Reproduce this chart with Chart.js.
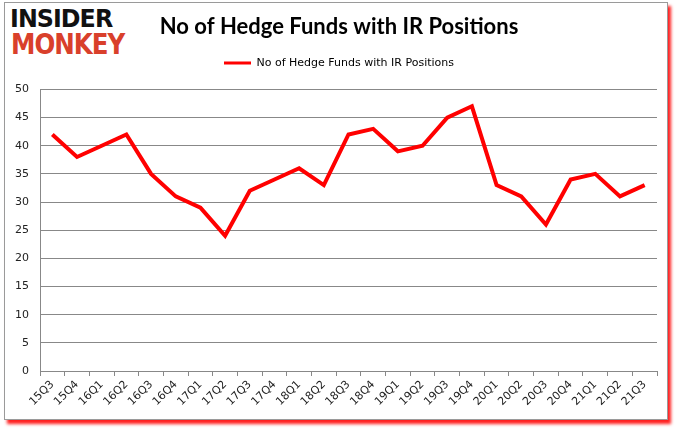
<!DOCTYPE html>
<html>
<head>
<meta charset="utf-8">
<script src="https://cdn.jsdelivr.net/npm/chart.js@4/dist/chart.umd.min.js"></script>
<style>
    body { margin: 0; background: #fff; width: 678px; height: 431px; overflow: hidden; position: relative; }
    .frame {
        position: absolute; left: 4px; top: 2px; width: 662px; height: 416px;
        border: 1px solid #9a9a9a; background: #fff;
        box-shadow: 3px 4px 3px #ff2020;
    }
    .logo { position: absolute; left: 10px; top: 6px; font-family: "DejaVu Sans"; font-weight: bold; line-height: 1; }
    .logo div { transform-origin: 0 0; letter-spacing: -1px; }
    .logo .top { color: #111; font-size: 25px; transform: scale(0.95, 1.0); }
    .logo .bottom { color: #d9402b; font-size: 25px; transform: scale(0.98, 1.12); margin-top: -1px; margin-left: 1px; }
    #wrap { position: absolute; left: 0; top: 0; width: 678px; height: 431px; }
</style>
</head>
<body>
<div class="frame"></div>
<div class="logo"><div class="top">INSIDER</div><div class="bottom">MONKEY</div></div>
<div id="wrap"><canvas id="chart"></canvas></div>
<script>
// Quarters on the x axis
const quarters = [
    '15Q3', '15Q4', '16Q1', '16Q2', '16Q3', '16Q4', '17Q1', '17Q2', '17Q3', '17Q4',
    '18Q1', '18Q2', '18Q3', '18Q4', '19Q1', '19Q2', '19Q3', '19Q4', '20Q1', '20Q2',
    '20Q3', '20Q4', '21Q1', '21Q2', '21Q3'
];

// Number of hedge funds holding IR, per quarter
const fundCounts = [
    42, 38, 40, 42, 35, 31, 29, 24, 32, 34,
    36, 33, 42, 43, 39, 40, 45, 47, 33, 31,
    26, 34, 35, 31, 33
];

const seriesName = 'No of Hedge Funds with IR Positions';
const chartTitle = 'No of Hedge Funds with IR Positions';

// Push the plot area down a little below the legend
const legendGap = {
    id: 'legendGap',
    afterInit(chart) {
        const legend = chart.legend;
        if (!legend) return;
        const origFit = legend.fit;
        legend.fit = function () {
            origFit.call(this);
            this.height += 11;
        };
    }
};

const ctx = document.getElementById('chart');

new Chart(ctx, {
    type: 'line',
    data: {
        labels: quarters,
        datasets: [{
            label: seriesName,
            data: fundCounts,
            borderColor: '#ff0000',
            backgroundColor: '#ff0000',
            borderWidth: 4,
            pointRadius: 0,
            tension: 0,
            fill: false
        }]
    },
    options: {
        responsive: true,
        maintainAspectRatio: false,
        animation: false,
        layout: {
            padding: { left: 0, right: 0, top: 0, bottom: 0 }
        },
        plugins: {
            title: {
                display: true,
                text: chartTitle,
                color: '#000',
                font: { family: 'Lato', size: 22, weight: 'bold' },
                padding: { top: 14, bottom: 7 }
            },
            legend: {
                display: true,
                labels: {
                    color: '#111',
                    font: { family: 'DejaVu Sans', size: 11 },
                    boxWidth: 27,
                    boxHeight: 3,
                    padding: 10,
                    generateLabels: (chart) => [{
                        text: seriesName,
                        fillStyle: '#ff0000',
                        strokeStyle: '#ff0000',
                        lineWidth: 0,
                        datasetIndex: 0
                    }]
                }
            },
            tooltip: { enabled: false }
        },
        scales: {
            x: {
                offset: true,
                grid: {
                    display: true,
                    drawOnChartArea: false,
                    drawTicks: true,
                    tickLength: 5,
                    color: '#888',
                    offset: true
                },
                border: { color: '#888', width: 1 },
                ticks: {
                    color: '#222',
                    font: { family: 'DejaVu Sans', size: 11 },
                    maxRotation: 45,
                    minRotation: 45,
                    autoSkip: false,
                    padding: 2
                },
                afterFit: (scale) => { scale.height = 60; }
            },
            y: {
                min: 0,
                max: 50,
                ticks: {
                    stepSize: 5,
                    color: '#222',
                    font: { family: 'DejaVu Sans', size: 11 },
                    padding: 11
                },
                grid: {
                    color: '#888',
                    drawTicks: false
                },
                border: { color: '#888', width: 1 },
                afterFit: (scale) => { scale.width = 40; }
            },
            // empty axis that only keeps the right margin
            yRight: {
                position: 'right',
                min: 0,
                max: 50,
                grid: { display: false, drawTicks: false },
                border: { display: false },
                ticks: { display: false },
                afterFit: (scale) => { scale.width = 21; }
            }
        }
    },
    plugins: [legendGap]
});
</script>
</body>
</html>
